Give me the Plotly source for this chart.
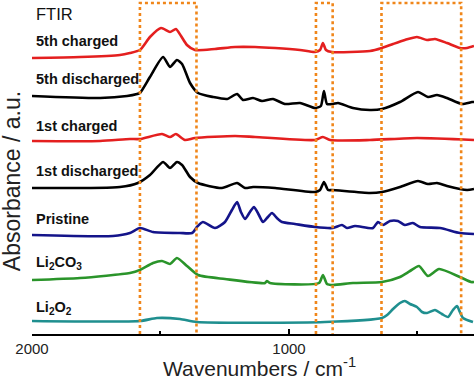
import plotly.graph_objects as go

# ---------------- data (wavenumber in cm^-1, absorbance in a.u. relative to each spectrum's baseline) -------------
WN_5C = [2000, 1813, 1658, 1619, 1580, 1541, 1498, 1463, 1440, 1420, 1397, 1366, 1288, 1210, 1132, 1054, 957, 899, 879, 868, 856, 833, 685, 638, 595, 549, 502, 463, 432, 385, 335, 307, 280]
AB_5C = [0, 1, 3, 5, 8, 21, 30, 26, 29, 22, 13, 8, 9, 11, 11, 10, 8, 6, 8, 15, 8, 6, 7, 10, 14, 18, 21, 18, 19, 15, 10, 10, 12]

WN_5D = [2000, 1735, 1630, 1591, 1580, 1541, 1490, 1463, 1436, 1416, 1385, 1354, 1296, 1241, 1202, 1179, 1140, 1105, 1062, 1016, 957, 899, 876, 864, 852, 829, 809, 751, 685, 638, 568, 498, 459, 424, 385, 327, 288, 280]
AB_5D = [0, -2, 0, 2, 3, 19, 39, 29, 36, 32, 13, 3, -1, -3, 2, -4, -2, -5, -3, -8, -7, -12, -10, 5, -8, -8, -7, -12, -14, -13, -6, 4, -1, 1, -2, -8, -6, -6]

WN_1C = [2000, 1735, 1619, 1580, 1494, 1463, 1440, 1405, 1366, 1210, 1132, 899, 868, 840, 685, 502, 280]
AB_1C = [0, 0, 2, 2, 7, 4, 7, 1, 3, 5, 4, 1, 4, 1, 1, 3, 1]

WN_1D = [2000, 1658, 1588, 1541, 1490, 1463, 1436, 1416, 1385, 1354, 1261, 1202, 1171, 1140, 1054, 899, 879, 864, 848, 833, 685, 638, 568, 498, 459, 424, 385, 307, 280]
AB_1D = [0, 1, 5, 13, 26, 20, 26, 23, 11, 5, 0, 5, 0, 1, 0, -4, -2, 6, -2, -2, -5, -4, 1, 7, 4, 5, 2, -2, -1]

WN_PR = [2000, 1685, 1619, 1580, 1529, 1424, 1377, 1358, 1335, 1288, 1249, 1222, 1202, 1187, 1171, 1152, 1136, 1117, 1101, 1082, 1066, 1047, 1027, 977, 899, 829, 794, 774, 743, 673, 654, 634, 607, 576, 549, 518, 490, 412, 335, 280]
AB_PR = [0, -1, 2, 7, 3, 2, 2, 8, 13, 7, 13, 25, 33, 23, 16, 23, 28, 20, 13, 18, 22, 17, 13, 11, 8, 7, 10, 7, 9, 7, 13, 10, 14, 14, 10, 12, 8, 7, 2, 1]

WN_CO3 = [2000, 1813, 1619, 1580, 1529, 1494, 1463, 1436, 1397, 1354, 1249, 1093, 1086, 1074, 883, 868, 852, 829, 751, 638, 568, 529, 494, 459, 416, 335, 292, 280]
AB_CO3 = [0, 2, 7, 10, 17, 19, 16, 22, 14, 5, 1, -3, -1, -3, -3, 5, -4, -5, -3, -2, 3, 9, 14, 4, 11, 3, -2, -2]

WN_O2 = [2000, 1580, 1514, 1424, 1358, 860, 638, 618, 595, 568, 549, 529, 502, 482, 463, 432, 405, 381, 362, 346, 335, 323, 284]
AB_O2 = [0, 0, 3, 2, -1, -1, 3, 6, 12, 18, 20, 17, 14, 9, 8, 11, 7, 4, 11, 15, 9, 3, -1]

NAMES = ["5th charged", "5th discharged", "1st charged", "1st discharged", "Pristine", "Li<sub>2</sub>CO<sub>3</sub>", "Li<sub>2</sub>O<sub>2</sub>"]
SERIES_WN = [WN_5C, WN_5D, WN_1C, WN_1D, WN_PR, WN_CO3, WN_O2]
SERIES_AB = [AB_5C, AB_5D, AB_1C, AB_1D, AB_PR, AB_CO3, AB_O2]
OFFSETS = [276, 238, 193, 146, 99, 54, 13]          # vertical stacking offsets (a.u.)
LABEL_Y = [293, 255, 208, 163, 115, 71, 26]          # label heights (a.u.)
BOX_REGIONS = [(1580, 1360), (895, 830), (640, 330)]  # highlighted wavenumber regions
X_TICKS = [2000, 1000]

COLORS = ["#e41f1f", "#000000", "#e41f1f", "#000000", "#14148a", "#2a942a", "#1f8f8f"]

fig = go.Figure()
for wn, ab, off, col, name in zip(SERIES_WN, SERIES_AB, OFFSETS, COLORS, NAMES):
    fig.add_trace(go.Scatter(
        x=wn, y=[v + off for v in ab], mode="lines", name=name,
        line=dict(color=col, width=2.6, shape="spline", smoothing=0.6),
        showlegend=False, hoverinfo="skip"))

shapes = []
for hi, lo in BOX_REGIONS:
    shapes.append(dict(type="path", xref="x", yref="paper",
                       path=f"M {hi},0 L {hi},0.991 L {lo},0.991 L {lo},0",
                       line=dict(color="#f0861a", width=2.6, dash="dot"), layer="above"))

annotations = []
for name, ly in zip(NAMES, LABEL_Y):
    annotations.append(dict(x=1991, y=ly, xref="x", yref="y", text=f"<b>{name}</b>",
                            showarrow=False, xanchor="left", yanchor="middle",
                            font=dict(family="Liberation Sans, Arial", size=14.5, color="#111")))
annotations.append(dict(x=1991, y=320, xref="x", yref="y", text="FTIR", showarrow=False,
                        xanchor="left", yanchor="middle",
                        font=dict(family="Liberation Sans, Arial", size=16.5, color="#111")))
annotations.append(dict(x=-0.045, y=0.458, xref="paper", yref="paper", text="Absorbance / a.u.",
                        textangle=-90, showarrow=False, xanchor="center", yanchor="middle",
                        font=dict(family="Liberation Sans, Arial", size=23, color="#222")))
annotations.append(dict(x=0.515, y=-0.098, xref="paper", yref="paper", text="Wavenumbers / cm<sup>-1</sup>",
                        showarrow=False, xanchor="center", yanchor="middle",
                        font=dict(family="Liberation Sans, Arial", size=21, color="#222")))

fig.update_layout(
    width=474, height=379,
    margin=dict(l=32, r=0, t=0, b=45),
    paper_bgcolor="white", plot_bgcolor="white",
    shapes=shapes, annotations=annotations,
    xaxis=dict(range=[2000, 280], tickvals=X_TICKS, ticktext=[str(t) for t in X_TICKS],
               ticks="inside", ticklen=5, tickwidth=1.5, tickcolor="black",
               minor=dict(tickvals=[1500, 500], ticks="inside", ticklen=3, tickwidth=1.5, tickcolor="black"),
               showline=True, linecolor="black", linewidth=2, showgrid=False, zeroline=False,
               tickfont=dict(family="Liberation Sans, Arial", size=15, color="#222")),
    yaxis=dict(range=[0, 334], showticklabels=False, showgrid=False, zeroline=False,
               showline=False, ticks=""),
)

fig.write_html("out.html", config={"displayModeBar": False},
               post_script="document.body.style.margin='0';document.body.style.padding='0';"
                           "document.body.style.overflow='hidden';")
